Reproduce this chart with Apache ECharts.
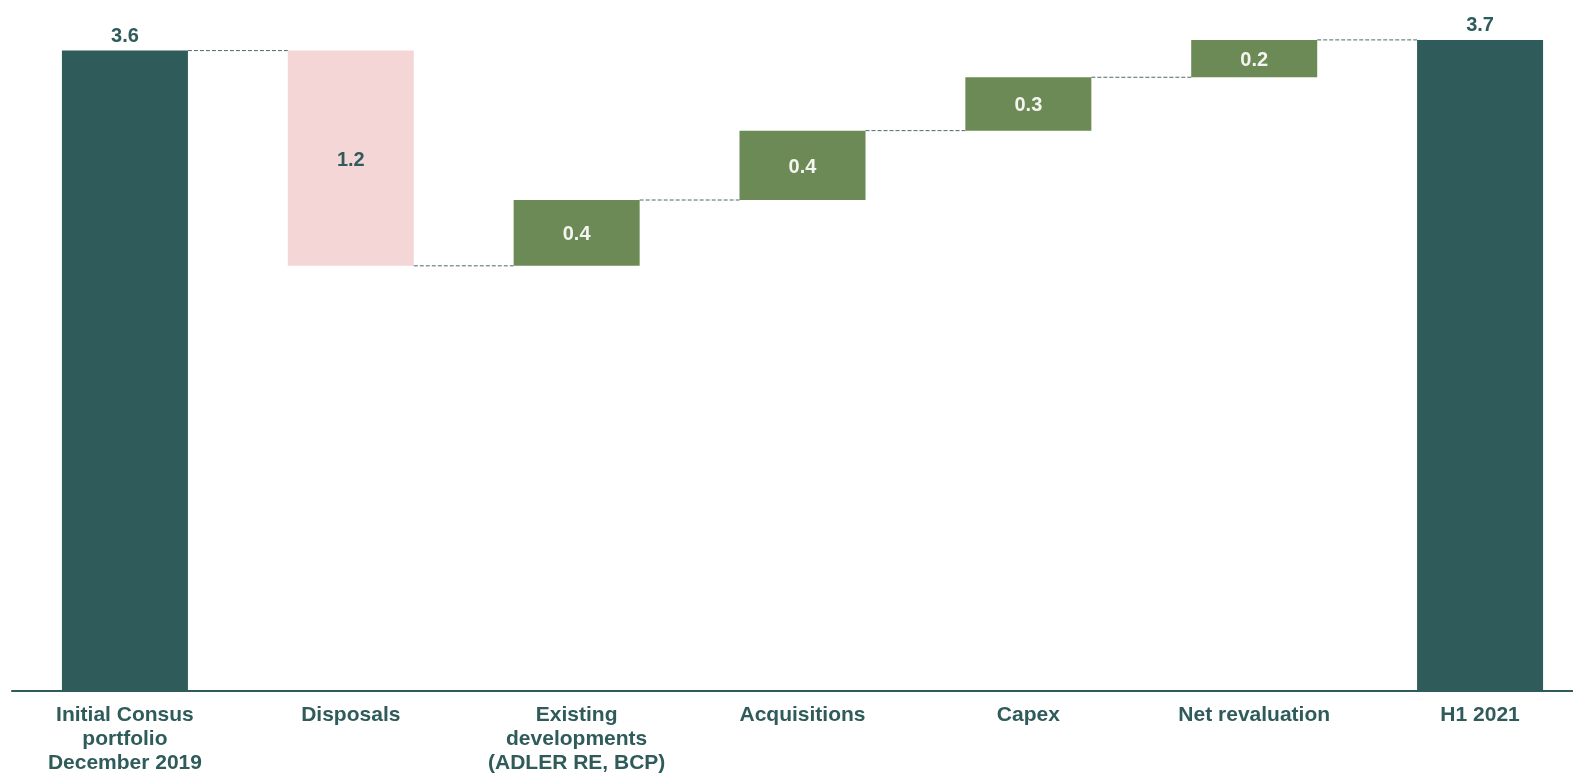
<!DOCTYPE html>
<html>
<head>
<meta charset="utf-8">
<title>Portfolio bridge</title>
<script src="https://cdn.jsdelivr.net/npm/echarts@6/dist/echarts.min.js"></script>
<style>
  html, body { margin: 0; padding: 0; background: #ffffff; }
  #chart { width: 1573px; height: 774px; }
</style>
</head>
<body>
<div id="chart"></div>
<script>
// Bridge categories (axis labels)
const categories = [
  'Initial Consus\nportfolio\nDecember 2019',
  'Disposals',
  'Existing\ndevelopments\n(ADLER RE, BCP)',
  'Acquisitions',
  'Capex',
  'Net revaluation',
  'H1 2021'
];
// Opening portfolio value
const startValue = 3.6;
// Movements between the opening and closing value
const changes = [-1.21, 0.37, 0.39, 0.30, 0.21];

const TEAL = '#2F5B5B';
const GREEN = '#6B8A56';
const PINK = '#F5D6D7';
const BAR_W = 126;

// Running totals after each step
const levels = [startValue];
changes.forEach(c => levels.push(+(levels[levels.length - 1] + c).toFixed(4)));
const endValue = levels[levels.length - 1];

// Invisible base + visible segment for each column
const baseData = [0];
const segData = [startValue];
changes.forEach((c, i) => {
  const prev = levels[i], next = levels[i + 1];
  baseData.push(Math.min(prev, next));
  segData.push(Math.abs(c));
});
baseData.push(0);
segData.push(endValue);

const fontFamily = 'Liberation Sans, Arial, sans-serif';

const segItems = segData.map((v, i) => {
  const isTotal = i === 0 || i === segData.length - 1;
  const isNeg = !isTotal && changes[i - 1] < 0;
  return {
    value: v,
    itemStyle: { color: isTotal ? TEAL : (isNeg ? PINK : GREEN) },
    label: {
      show: true,
      position: isTotal ? 'top' : 'inside',
      distance: 4,
      offset: isTotal ? [0, 0] : [0, 2],
      color: isTotal || isNeg ? TEAL : '#F4F4F0',
      fontFamily: fontFamily,
      fontWeight: 'bold',
      fontSize: 20
    }
  };
});

// Connector levels: from each column to the next
const connectorData = levels.map((lv, i) => [i, lv]);

const chart = echarts.init(document.getElementById('chart'), null, { renderer: 'canvas' });
chart.setOption({
  animation: false,
  backgroundColor: '#ffffff',
  grid: { left: 12, width: 1581, top: 15, bottom: 83, outerBoundsMode: 'none', containLabel: false },
  xAxis: {
    type: 'category',
    data: categories,
    axisLine: { lineStyle: { color: TEAL, width: 2 } },
    axisTick: { show: false },
    axisLabel: {
      interval: 0,
      margin: 12,
      lineHeight: 24,
      color: TEAL,
      fontFamily: fontFamily,
      fontWeight: 'bold',
      fontSize: 21
    }
  },
  yAxis: {
    type: 'value',
    min: 0,
    max: 3.8,
    show: false,
    splitLine: { show: false }
  },
  series: [
    {
      name: 'base',
      type: 'bar',
      stack: 'bridge',
      barWidth: BAR_W,
      itemStyle: { color: 'transparent' },
      silent: true,
      data: baseData
    },
    {
      name: 'value',
      type: 'bar',
      stack: 'bridge',
      barWidth: BAR_W,
      label: {
        formatter: p => p.value.toFixed(1)
      },
      data: segItems
    },
    {
      name: 'connectors',
      type: 'custom',
      silent: true,
      z: 5,
      data: connectorData,
      renderItem: (params, api) => {
        const i = api.value(0);
        const lv = api.value(1);
        const a = api.coord([i, lv]);
        const b = api.coord([i + 1, lv]);
        return {
          type: 'line',
          shape: { x1: a[0] + BAR_W / 2, y1: a[1], x2: b[0] - BAR_W / 2, y2: b[1] },
          style: { stroke: '#4A6B6C', lineWidth: 1, lineDash: [4, 2] }
        };
      }
    }
  ]
});
</script>
</body>
</html>
